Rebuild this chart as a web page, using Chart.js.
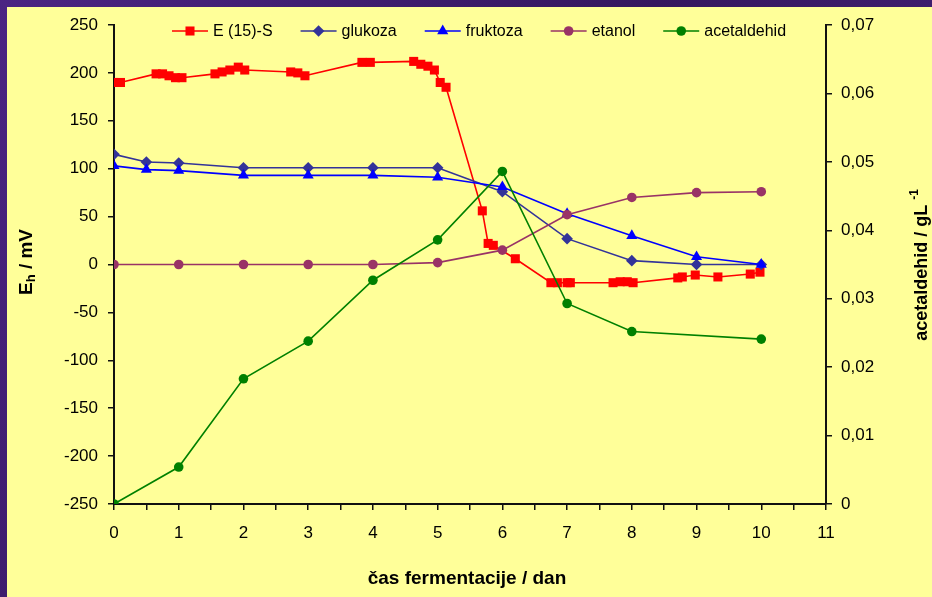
<!DOCTYPE html>
<html>
<head>
<meta charset="utf-8">
<script src="https://cdn.jsdelivr.net/npm/chart.js@4/dist/chart.umd.min.js"></script>
<style>
  html, body { margin: 0; padding: 0; background: #3b1d6b; }
  #wrap { width: 932px; height: 597px; position: relative; }
</style>
</head>
<body>
<div id="wrap"><canvas id="c" width="932" height="597"></canvas></div>
<script>
// Redox potential E(15)-S (mV), measured at irregular times (days)
const redoxDays = [0, 0.1, 0.65, 0.75, 0.85, 0.95, 1.05, 1.56, 1.67, 1.79, 1.92, 2.02,
  2.73, 2.84, 2.95, 3.83, 3.96, 4.63, 4.74, 4.85, 4.95, 5.04, 5.13,
  5.69, 5.78, 5.86, 6.2, 6.75, 6.85, 7.0, 7.05, 7.71, 7.82, 7.93, 8.02,
  8.71, 8.78, 8.98, 9.33, 9.83, 9.98];
const redoxValues = [190, 190, 199, 199, 197, 195, 195, 199, 201, 203, 206, 203,
  201, 200, 197, 211, 211, 212, 209, 207, 203, 190, 185,
  56, 22, 20, 6, -19, -19, -19, -19, -19, -18, -18, -19,
  -14, -13, -11, -13, -10, -8];

// Sugars (plotted on the mV axis)
const sugarDays = [0, 0.5, 1, 2, 3, 4, 5, 6, 7, 8, 9, 10];
const glukoza = [115, 107, 106, 101, 101, 101, 101, 76, 27, 4, 0, 0];
const fruktoza = [103, 99, 98, 93, 93, 93, 91, 81, 53, 30, 8, 0];

// Ethanol
const etanolDays = [0, 1, 2, 3, 4, 5, 6, 7, 8, 9, 10];
const etanol = [0, 0, 0, 0, 0, 2, 15, 52, 70, 75, 76];

// Acetaldehyde (g/L, right axis)
const acetDays = [0, 1, 2, 3, 4, 5, 6, 7, 8, 10];
const acetaldehid = [0, 0.0054, 0.0183, 0.0238, 0.0327, 0.0386, 0.0486, 0.0293, 0.0252, 0.0241];

const seriesNames = ['E (15)-S', 'glukoza', 'fruktoza', 'etanol', 'acetaldehid'];

const FONT = '"Liberation Sans", Arial, sans-serif';

function pts(xs, ys) { return xs.map((x, i) => ({ x: x, y: ys[i] })); }

const styles = [
  { color: '#FF0000', pointStyle: 'rect', radius: 6.4 },
  { color: '#333399', pointStyle: 'rectRot', radius: 5.8 },
  { color: '#0000FF', pointStyle: 'triangle', radius: 6.4 },
  { color: '#993366', pointStyle: 'circle', radius: 4.8 },
  { color: '#008000', pointStyle: 'circle', radius: 4.8 }
];

function ds(i, data, axis) {
  const s = styles[i];
  return {
    label: seriesNames[i],
    data: data,
    yAxisID: axis,
    borderColor: s.color,
    backgroundColor: s.color,
    borderWidth: 1.6,
    pointStyle: s.pointStyle,
    pointRadius: s.radius,
    pointHoverRadius: s.radius,
    pointBorderWidth: 0,
    pointBackgroundColor: s.color,
    tension: 0,
    order: 5 - i
  };
}

// Frame: purple border and pale yellow panel
const framePlugin = {
  id: 'frame',
  beforeDraw(chart) {
    const ctx = chart.ctx;
    const w = chart.width, h = chart.height;
    ctx.save();
    const g = ctx.createLinearGradient(0, 0, w, h);
    g.addColorStop(0, '#4b2483');
    g.addColorStop(0.5, '#35175f');
    g.addColorStop(1, '#4a2580');
    ctx.fillStyle = g;
    ctx.fillRect(0, 0, w, h);
    ctx.fillStyle = '#FFFF99';
    ctx.fillRect(7, 7, w - 7, h - 7);
    ctx.restore();
  }
};

// Legend drawn inline across the top of the plot, and the axis titles
const decorPlugin = {
  id: 'decor',
  afterDraw(chart) {
    const ctx = chart.ctx;
    ctx.save();
    // legend
    ctx.font = '16px ' + FONT;
    ctx.textBaseline = 'middle';
    ctx.textAlign = 'left';
    let x = 172;
    const y = 31;
    chart.data.datasets.forEach((d, i) => {
      const s = styles[i];
      ctx.strokeStyle = s.color;
      ctx.lineWidth = 1.6;
      ctx.beginPath();
      ctx.moveTo(x, y);
      ctx.lineTo(x + 36, y);
      ctx.stroke();
      ctx.fillStyle = s.color;
      Chart.helpers.drawPoint(ctx, { pointStyle: s.pointStyle, radius: s.radius, borderWidth: 0 }, x + 18, y);
      ctx.fillStyle = '#000';
      ctx.fillText(d.label, x + 41, y + 1);
      x += 41 + ctx.measureText(d.label).width + 28;
    });

    // left axis title: E_h / mV
    ctx.fillStyle = '#000';
    ctx.translate(27, 262);
    ctx.rotate(-Math.PI / 2);
    ctx.textBaseline = 'middle';
    const big = 'bold 19px ' + FONT, small = 'bold 13px ' + FONT;
    ctx.font = big; const wE = ctx.measureText('E').width;
    ctx.font = small; const wh = ctx.measureText('h').width;
    ctx.font = big; const wRest = ctx.measureText(' / mV').width;
    let sx = -(wE + wh + wRest) / 2;
    ctx.font = big; ctx.fillText('E', sx, 0); sx += wE;
    ctx.font = small; ctx.fillText('h', sx, 4); sx += wh;
    ctx.font = big; ctx.fillText(' / mV', sx, 0);
    ctx.setTransform(1, 0, 0, 1, 0, 0);

    // right axis title: acetaldehid / gL -1
    ctx.translate(922, 265);
    ctx.rotate(-Math.PI / 2);
    ctx.font = 'bold 18px ' + FONT;
    const main = 'acetaldehid / gL ';
    const wm = ctx.measureText(main).width;
    ctx.font = 'bold 12px ' + FONT;
    const ws = ctx.measureText('-1').width;
    let rx = -(wm + ws) / 2;
    ctx.font = 'bold 18px ' + FONT;
    ctx.fillText(main, rx, 0); rx += wm;
    ctx.font = 'bold 12px ' + FONT;
    ctx.fillText('-1', rx, -7);
    ctx.setTransform(1, 0, 0, 1, 0, 0);

    // bottom axis title
    ctx.font = 'bold 19px ' + FONT;
    ctx.textAlign = 'center';
    ctx.fillText('čas fermentacije / dan', 467, 579);
    ctx.restore();
  }
};

const tickFont = { family: FONT, size: 17 };
const axisColor = '#111';

new Chart(document.getElementById('c'), {
  type: 'line',
  data: {
    datasets: [
      ds(0, pts(redoxDays, redoxValues), 'y'),
      ds(1, pts(sugarDays, glukoza), 'y'),
      ds(2, pts(sugarDays, fruktoza), 'y'),
      ds(3, pts(etanolDays, etanol), 'y'),
      ds(4, pts(acetDays, acetaldehid), 'y2')
    ]
  },
  options: {
    responsive: false,
    animation: false,
    events: [],
    layout: { padding: { top: 25, left: 0, right: 0, bottom: 0 } },
    plugins: { legend: { display: false }, tooltip: { enabled: false } },
    scales: {
      x: {
        type: 'linear', position: 'bottom', min: 0, max: 11,
        ticks: {
          stepSize: 0.5, autoSkip: false, maxRotation: 0, color: '#000', font: tickFont, padding: 13,
          callback: v => Number.isInteger(v) ? String(v) : ''
        },
        grid: { drawOnChartArea: false, tickLength: 6, color: axisColor, lineWidth: 1.5 },
        border: { color: axisColor, width: 2 },
        afterFit: s => { s.height = 93; s.paddingLeft = 0; s.paddingRight = 0; }
      },
      y: {
        position: 'left', min: -250, max: 250,
        ticks: { stepSize: 50, color: '#000', font: tickFont, padding: 10 },
        grid: { drawOnChartArea: false, tickLength: 6, color: axisColor, lineWidth: 1.5 },
        border: { color: axisColor, width: 2 },
        afterFit: s => { s.width = 114; s.paddingTop = 0; s.paddingBottom = 0; }
      },
      y2: {
        position: 'right', min: 0, max: 0.07,
        ticks: {
          stepSize: 0.01, color: '#000', font: tickFont, padding: 9,
          callback: v => (Math.abs(v) < 1e-9 ? '0' : v.toFixed(2).replace('.', ','))
        },
        grid: { drawOnChartArea: false, tickLength: 6, color: axisColor, lineWidth: 1.5 },
        border: { color: axisColor, width: 2 },
        afterFit: s => { s.width = 106; s.paddingTop = 0; s.paddingBottom = 0; }
      }
    }
  },
  plugins: [framePlugin, decorPlugin]
});
</script>
</body>
</html>
